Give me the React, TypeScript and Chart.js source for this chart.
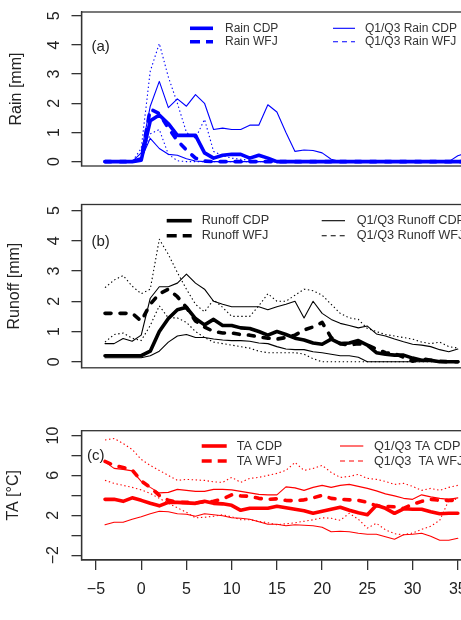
import React, { useEffect, useRef } from "react";
import { Chart, registerables } from "chart.js";

Chart.register(...registerables);

const FONT = '"Liberation Sans", Arial, Helvetica, sans-serif';
const TEXT = "#222222";
const AXIS = "#333333";

// ---------- data ----------
const days = [-4, -3, -2, -1, 0, 1, 2, 3, 4, 5, 6, 7, 8, 9, 10, 11, 12, 13, 14, 15, 16, 17, 18, 19, 20, 21, 22, 23, 24, 25, 26, 27, 28, 29, 30, 31, 32, 33, 34, 35];
const rainDays = [-4, -3, -2, -1, 0, 1, 2, 3, 4, 5, 6, 7, 8, 9, 10, 11, 12, 13, 14, 15, 16, 17, 18, 19, 20, 21, 22, 23, 24, 25, 26, 27, 28, 29, 30, 31, 32, 33, 34, 35, 36];

const rainCDP = [0, 0, 0, 0, 0.05, 1.4, 1.6, 1.3, 0.9, 0.9, 0.9, 0.3, 0.12, 0.22, 0.25, 0.25, 0.12, 0.22, 0.12, 0, 0, 0, 0, 0, 0, 0, 0, 0, 0, 0, 0, 0, 0, 0, 0, 0, 0, 0, 0, 0, 0];
const rainWFJ = [0, 0, 0, 0, 0.1, 1.8, 1.65, 1.15, 0.72, 0.4, 0.12, 0.02, 0, 0, 0, 0, 0, 0, 0, 0, 0, 0, 0, 0, 0, 0, 0, 0, 0, 0, 0, 0, 0, 0, 0, 0, 0, 0, 0, 0, 0];
const rainCDPq3 = [0, 0, 0, 0, 0.3, 1.9, 2.75, 1.85, 2.15, 1.9, 2.3, 2.0, 1.1, 1.15, 1.1, 1.1, 1.25, 1.25, 1.95, 1.7, 1.0, 0.35, 0.4, 0.38, 0.3, 0.08, 0, 0, 0, 0, 0, 0, 0, 0, 0, 0, 0, 0, 0, 0.2, 0.3];
const rainCDPq1 = [0, 0, 0, 0, 0.1, 0.8, 0.45, 0.25, 0.22, 0.1, 0.02, 0, 0, 0, 0, 0, 0, 0, 0, 0, 0, 0, 0, 0, 0, 0, 0, 0, 0, 0, 0, 0, 0, 0, 0, 0, 0, 0, 0, 0, 0];
const rainWFJq3 = [0, 0, 0, 0, 0.45, 3.1, 4.05, 2.9, 2.0, 1.0, 0.8, 1.45, 0.35, 0.2, 0.12, 0.08, 0.05, 0, 0, 0, 0, 0, 0, 0, 0, 0, 0, 0, 0, 0, 0, 0, 0, 0, 0, 0, 0, 0, 0, 0, 0];
const rainWFJq1 = [0, 0, 0, 0, 0.05, 0.95, 1.1, 0.25, 0.03, 0, 0, 0, 0, 0, 0, 0, 0, 0, 0, 0, 0, 0, 0, 0, 0, 0, 0, 0, 0, 0, 0, 0, 0, 0, 0, 0, 0, 0, 0, 0, 0];

const runoffCDP = [0.2, 0.2, 0.2, 0.2, 0.2, 0.35, 1.0, 1.43, 1.72, 1.8, 1.43, 1.22, 1.4, 1.2, 1.2, 1.12, 1.1, 1.0, 0.88, 1.0, 0.9, 0.78, 0.72, 0.62, 0.58, 0.75, 0.6, 0.62, 0.7, 0.55, 0.3, 0.25, 0.22, 0.22, 0.12, 0.05, 0.05, 0, 0, 0];
const runoffWFJ = [1.6, 1.6, 1.6, 1.6, 1.35, 1.9, 2.25, 2.4, 2.15, 1.8, 1.35, 1.15, 1.0, 0.95, 0.95, 0.9, 0.88, 0.82, 0.78, 0.75, 0.8, 0.88, 1.05, 1.15, 1.3, 0.8, 0.6, 0.55, 0.6, 0.55, 0.42, 0.3, 0.27, 0.15, 0.02, 0.1, 0.05, 0.02, 0, 0];
const runoffCDPq3 = [0.6, 0.6, 0.77, 0.68, 0.88, 2.1, 2.48, 2.48, 2.6, 2.9, 2.6, 2.4, 2.0, 1.9, 1.82, 1.82, 1.82, 1.82, 1.72, 1.82, 1.9, 2.0, 1.45, 2.0, 1.6, 1.4, 1.27, 1.2, 1.12, 1.18, 0.92, 0.85, 0.75, 0.66, 0.58, 0.55, 0.5, 0.4, 0.33, 0.42];
const runoffCDPq1 = [0.13, 0.13, 0.13, 0.13, 0.13, 0.2, 0.35, 0.65, 0.85, 0.9, 0.8, 0.8, 0.75, 0.72, 0.7, 0.7, 0.68, 0.62, 0.6, 0.5, 0.42, 0.4, 0.4, 0.33, 0.3, 0.25, 0.2, 0.2, 0.15, 0, 0, 0, 0, 0, 0, 0, 0, 0, 0, 0];
const runoffWFJq3 = [2.45, 2.7, 2.85, 2.5, 2.25, 2.4, 4.05, 3.55, 2.95, 2.4, 1.9, 1.65, 2.05, 1.8, 1.5, 1.5, 1.5, 1.85, 2.25, 2.0, 2.0, 2.2, 2.4, 2.35, 2.2, 1.9, 1.6, 1.45, 1.4, 1.1, 1.0, 0.9, 0.85, 0.8, 0.75, 0.65, 0.6, 0.65, 0.5, 0.45];
const runoffWFJq1 = [0.65, 0.9, 0.95, 0.78, 0.7, 1.2, 1.85, 1.45, 1.45, 1.3, 1.0, 0.8, 0.65, 0.6, 0.55, 0.5, 0.45, 0.35, 0.3, 0.3, 0.3, 0.3, 0.25, 0.1, 0, 0, 0, 0, 0, 0, 0, 0, 0, 0, 0, 0, 0, 0, 0, 0];

const taCDP = [3.6, 3.6, 3.4, 3.75, 3.5, 3.2, 2.95, 3.3, 3.3, 3.25, 3.2, 3.4, 3.2, 3.15, 3.0, 2.5, 2.7, 2.7, 2.7, 2.9, 2.75, 2.6, 2.45, 2.2, 2.4, 2.6, 2.8, 2.5, 2.25, 2.05, 3.0, 2.7, 2.2, 2.65, 2.6, 2.6, 2.35, 2.15, 2.2, 2.2];
const taWFJ = [7.4, 7.0, 6.8, 6.55, 5.45, 4.8, 4.0, 3.5, 3.3, 3.3, 3.25, 3.35, 3.4, 3.65, 4.05, 3.95, 3.9, 3.7, 3.6, 3.65, 3.5, 3.45, 3.55, 3.75, 4.0, 3.7, 3.6, 3.55, 3.5, 3.3, 2.95, 2.9, 2.85, 2.7, 3.1, 3.4, 3.6, 3.5, 3.5, 3.5];
const taCDPq3 = [7.35, 6.7, 6.6, 6.45, 5.4, 4.8, 4.25, 4.3, 4.6, 4.5, 4.4, 4.4, 4.6, 4.6, 4.55, 4.4, 4.25, 4.1, 4.05, 4.05, 4.85, 4.75, 4.5, 4.8, 5.0, 4.8, 5.0, 5.1, 4.9, 4.7, 4.45, 4.15, 3.95, 3.7, 3.6, 4.05, 3.85, 3.7, 3.6, 3.75];
const taCDPq1 = [1.05, 1.3, 1.3, 1.6, 1.85, 2.15, 2.4, 2.35, 2.15, 2.1, 1.9, 2.15, 2.05, 1.95, 1.75, 1.7, 1.6, 1.35, 1.1, 1.1, 0.95, 1.05, 1.0, 0.95, 0.8, 0.35, 0.4, 0.35, 0.2, 0.1, 0.1, -0.15, -0.4, 0.05, 0.1, 0.2, -0.1, -0.5, -0.5, -0.3];
const taWFJq3 = [9.55, 9.7, 9.2, 8.6, 7.6, 7.0, 6.5, 6.0, 5.5, 5.6, 5.55, 5.5, 5.35, 5.3, 5.8, 5.3, 5.7, 5.8, 6.0, 6.2, 6.5, 7.3, 6.5, 6.7, 7.0, 6.3, 5.8, 5.9, 6.1, 5.7, 5.6, 5.4, 5.1, 5.2, 4.9, 4.5, 4.7, 4.5, 4.8, 5.0];
const taWFJq1 = [5.5, 5.2, 5.0, 4.8, 4.55, 4.2, 3.7, 3.2, 2.75, 2.3, 1.75, 1.8, 1.9, 2.05, 1.85, 1.55, 1.55, 1.4, 1.25, 1.05, 1.15, 1.25, 1.4, 1.55, 1.75, 1.7, 1.5, 2.2, 1.6, 0.72, 1.2, 0.55, 0.15, 0.05, 0.22, 0.6, 0.9, 1.5, 3.5, 3.65];

const xTickValues = [-5, 0, 5, 10, 15, 20, 25, 30, 35];
const xTickLabels = ["\u22125", "0", "5", "10", "15", "20", "25", "30", "35"];
const mmTickValues = [0, 1, 2, 3, 4, 5];
const mmTickLabels = ["0", "1", "2", "3", "4", "5"];
const taTickValues = [-2, 0, 2, 4, 6, 8, 10];
const taTickLabels = ["\u22122", "", "2", "", "6", "", "10"];

// ---------- layout / styles ----------
const CANVAS_W = 480;
const X_MIN = -6.6;
const X_MAX = 36.6;
const AREA_LEFT = 81.5;
const AREA_RIGHT = 472.3;
const X_AXIS_H = 60;
const TICK_FONT = 16;

const THICK = 3.6;
const THIN = 1.1;
const DASH_THICK = [6, 9];
const DOT = [1.4, 2.6];

type Series = { label: string; x: number[]; y: number[]; color: string; width: number; dash: number[]; cap: CanvasLineCap };
type LegendItem = { text: string; color: string; width: number; dash: number[]; x1: number; x2: number; tx: number; y: number };

interface PanelCfg {
  top: number;
  height: number;
  yMin: number;
  yMax: number;
  yTicks: number[];
  yLabels: string[];
  yTitle: string;
  titlePad: number;
  tickPad: number;
  areaTop: number;
  areaBottom: number;
  showX: boolean;
  series: Series[];
  legend: LegendItem[];
  legendSize: number;
  letter: string;
  letterX: number;
  letterY: number;
}

function mkSeries(label: string, x: number[], y: number[], color: string, kind: "main" | "mainDash" | "q" | "qDot"): Series {
  if (kind === "main") return { label, x, y, color, width: THICK, dash: [], cap: "round" };
  if (kind === "mainDash") return { label, x, y, color, width: THICK, dash: DASH_THICK, cap: "round" };
  if (kind === "q") return { label, x, y, color, width: THIN, dash: [], cap: "round" };
  return { label, x, y, color, width: THIN, dash: DOT, cap: "butt" };
}

function mkLegend(labels: string[], color: string, c1: [number, number, number], c2: [number, number, number], rows: [number, number]): LegendItem[] {
  return [
    { text: labels[0], color, width: THICK, dash: [], x1: c1[0], x2: c1[1], tx: c1[2], y: rows[0] },
    { text: labels[1], color, width: THICK, dash: [10, 6], x1: c1[0], x2: c1[1], tx: c1[2], y: rows[1] },
    { text: labels[2], color, width: THIN, dash: [], x1: c2[0], x2: c2[1], tx: c2[2], y: rows[0] },
    { text: labels[3], color, width: THIN, dash: [5, 4], x1: c2[0], x2: c2[1], tx: c2[2], y: rows[1] },
  ];
}

const BLUE = "#0000ff";
const BLACK = "#000000";
const RED = "#ff0000";

const panels: PanelCfg[] = [
  {
    top: 0, height: 180, yMin: -0.15, yMax: 5.13, yTicks: mmTickValues, yLabels: mmTickLabels,
    yTitle: "Rain [mm]", titlePad: 6.5, tickPad: 12, areaTop: 12, areaBottom: 166, showX: false,
    series: [
      mkSeries("Rain CDP", rainDays, rainCDP, BLUE, "main"),
      mkSeries("Rain WFJ", rainDays, rainWFJ, BLUE, "mainDash"),
      mkSeries("Q3 Rain CDP", rainDays, rainCDPq3, BLUE, "q"),
      mkSeries("Q1 Rain CDP", rainDays, rainCDPq1, BLUE, "q"),
      mkSeries("Q3 Rain WFJ", rainDays, rainWFJq3, BLUE, "qDot"),
      mkSeries("Q1 Rain WFJ", rainDays, rainWFJq1, BLUE, "qDot"),
    ],
    legend: mkLegend(["Rain CDP", "Rain WFJ", "Q1/Q3 Rain CDP", "Q1/Q3 Rain WFJ"], BLUE, [190, 213, 225], [333, 355, 365], [28.3, 41.7]),
    legendSize: 12, letter: "(a)", letterX: 91.5, letterY: 47.3,
  },
  {
    top: 190, height: 190, yMin: -0.2, yMax: 5.2, yTicks: mmTickValues, yLabels: mmTickLabels,
    yTitle: "Runoff [mm]", titlePad: 4.8, tickPad: 12, areaTop: 14.5, areaBottom: 177.8, showX: false,
    series: [
      mkSeries("Runoff CDP", days, runoffCDP, BLACK, "main"),
      mkSeries("Runoff WFJ", days, runoffWFJ, BLACK, "mainDash"),
      mkSeries("Q3 Runoff CDP", days, runoffCDPq3, BLACK, "q"),
      mkSeries("Q1 Runoff CDP", days, runoffCDPq1, BLACK, "q"),
      mkSeries("Q3 Runoff WFJ", days, runoffWFJq3, BLACK, "qDot"),
      mkSeries("Q1 Runoff WFJ", days, runoffWFJq1, BLACK, "qDot"),
    ],
    legend: mkLegend(["Runoff CDP", "Runoff WFJ", "Q1/Q3 Runoff CDP", "Q1/Q3 Runoff WFJ"], BLACK, [166.7, 191.7, 201.7], [321.7, 345, 356.7], [30.7, 45.7]),
    legendSize: 12.7, letter: "(b)", letterX: 91.5, letterY: 51.7,
  },
  {
    top: 400, height: 220, yMin: -2.48, yMax: 10.48, yTicks: taTickValues, yLabels: taTickLabels,
    yTitle: "TA [\u00b0C]", titlePad: 3.6, tickPad: 9, areaTop: 30.7, areaBottom: 160, showX: true,
    series: [
      mkSeries("TA CDP", days, taCDP, RED, "main"),
      mkSeries("TA WFJ", days, taWFJ, RED, "mainDash"),
      mkSeries("Q3 TA CDP", days, taCDPq3, RED, "q"),
      mkSeries("Q1 TA CDP", days, taCDPq1, RED, "q"),
      mkSeries("Q3 TA WFJ", days, taWFJq3, RED, "qDot"),
      mkSeries("Q1 TA WFJ", days, taWFJq1, RED, "qDot"),
    ],
    legend: mkLegend(["TA CDP", "TA WFJ", "Q1/Q3 TA CDP", "Q1/Q3  TA WFJ"], RED, [201.7, 226.7, 236.7], [340, 363.3, 374], [46, 61]),
    legendSize: 12.7, letter: "(c)", letterX: 87, letterY: 56,
  },
];

function makeDecor(cfg: PanelCfg) {
  return {
    id: "decor",
    afterDraw(chart: any) {
      const { ctx, chartArea: a } = chart;
      ctx.save();
      ctx.strokeStyle = AXIS;
      ctx.lineWidth = 1.3;
      ctx.setLineDash([]);
      ctx.strokeRect(a.left, a.top, a.right - a.left, a.bottom - a.top);

      ctx.fillStyle = TEXT;
      ctx.textBaseline = "middle";
      ctx.textAlign = "left";
      ctx.font = `15px ${FONT}`;
      ctx.fillText(cfg.letter, cfg.letterX, cfg.letterY);

      ctx.font = `${cfg.legendSize}px ${FONT}`;
      for (const it of cfg.legend) {
        ctx.beginPath();
        ctx.strokeStyle = it.color;
        ctx.lineWidth = it.width;
        ctx.lineCap = "butt";
        ctx.setLineDash(it.dash);
        ctx.moveTo(it.x1, it.y);
        ctx.lineTo(it.x2, it.y);
        ctx.stroke();
        ctx.setLineDash([]);
        ctx.fillStyle = "#333333";
        ctx.fillText(it.text, it.tx, it.y);
      }
      ctx.restore();
    },
  };
}

function buildChart(canvas: HTMLCanvasElement, cfg: PanelCfg) {
  return new Chart(canvas, {
    type: "line",
    data: {
      datasets: cfg.series.map((s) => ({
        label: s.label,
        data: s.x.map((x, i) => ({ x, y: s.y[i] })),
        borderColor: s.color,
        backgroundColor: s.color,
        borderWidth: s.width,
        borderDash: s.dash,
        borderCapStyle: s.cap,
        borderJoinStyle: "round",
        pointRadius: 0,
        tension: 0,
        fill: false,
      })),
    },
    options: {
      responsive: false,
      maintainAspectRatio: false,
      animation: false,
      events: [],
      layout: {
        padding: {
          top: cfg.areaTop,
          bottom: cfg.showX ? cfg.height - cfg.areaBottom - X_AXIS_H : cfg.height - cfg.areaBottom,
          left: 0,
          right: CANVAS_W - AREA_RIGHT,
        },
      },
      plugins: { legend: { display: false }, tooltip: { enabled: false } },
      scales: {
        x: {
          type: "linear",
          min: X_MIN,
          max: X_MAX,
          display: cfg.showX,
          afterBuildTicks: (s: any) => {
            s.ticks = xTickValues.map((v) => ({ value: v }));
          },
          afterFit: (s: any) => {
            s.height = cfg.showX ? X_AXIS_H : 0;
            s.paddingLeft = 0;
            s.paddingRight = 0;
          },
          grid: { drawOnChartArea: false, drawTicks: true, tickLength: 10, color: AXIS, lineWidth: 1.3 },
          border: { display: true, color: AXIS, width: 1.3 },
          ticks: {
            autoSkip: false,
            maxRotation: 0,
            minRotation: 0,
            padding: 10.4,
            color: TEXT,
            font: { family: FONT, size: TICK_FONT },
            callback: (_v: any, i: number) => xTickLabels[i],
          },
        },
        y: {
          type: "linear",
          min: cfg.yMin,
          max: cfg.yMax,
          afterBuildTicks: (s: any) => {
            s.ticks = cfg.yTicks.map((v) => ({ value: v }));
          },
          afterFit: (s: any) => {
            s.width = AREA_LEFT;
            s.paddingTop = 0;
            s.paddingBottom = 0;
          },
          grid: { drawOnChartArea: false, drawTicks: true, tickLength: 10, color: AXIS, lineWidth: 1.3 },
          border: { display: true, color: AXIS, width: 1.3 },
          ticks: {
            autoSkip: false,
            minRotation: 90,
            maxRotation: 90,
            crossAlign: "center",
            padding: cfg.tickPad,
            color: TEXT,
            font: { family: FONT, size: TICK_FONT },
            callback: (_v: any, i: number) => cfg.yLabels[i],
          },
          title: {
            display: true,
            text: cfg.yTitle,
            color: TEXT,
            font: { family: FONT, size: 16 },
            padding: { top: cfg.titlePad, bottom: 0 },
          },
        },
      },
    } as any,
    plugins: [makeDecor(cfg)],
  });
}

export default function App() {
  const r0 = useRef<HTMLCanvasElement>(null);
  const r1 = useRef<HTMLCanvasElement>(null);
  const r2 = useRef<HTMLCanvasElement>(null);

  useEffect(() => {
    const refs = [r0, r1, r2];
    const charts = panels.map((p, i) => buildChart(refs[i].current as HTMLCanvasElement, p));
    return () => charts.forEach((c) => c.destroy());
  }, []);

  const refs = [r0, r1, r2];
  return (
    <div style={{ position: "fixed", left: 0, top: 0, width: 461, height: 620, overflow: "hidden", background: "#ffffff" }}>
      {panels.map((p, i) => (
        <canvas
          key={i}
          ref={refs[i]}
          width={CANVAS_W}
          height={p.height}
          style={{ position: "absolute", left: 0, top: p.top, width: CANVAS_W, height: p.height, display: "block" }}
        />
      ))}
    </div>
  );
}
